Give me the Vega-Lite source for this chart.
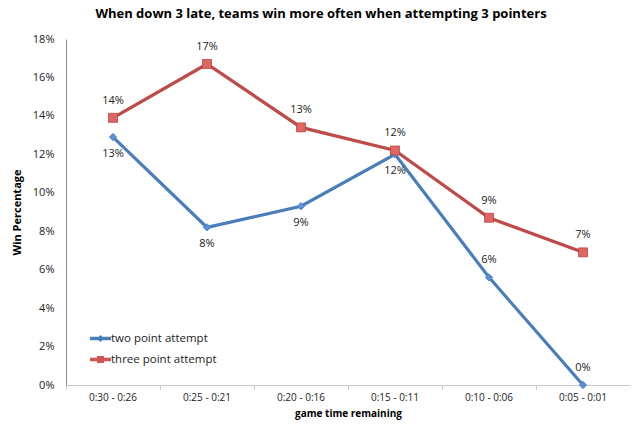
{
  "$schema": "https://vega.github.io/schema/vega-lite/v6.json",
  "width": 564,
  "height": 346,
  "autosize": {"type": "none"},
  "padding": {"left": 66, "top": 39, "right": 10, "bottom": 51},
  "background": "white",
  "config": {
    "font": "Open Sans",
    "view": {"stroke": null}
  },
  "title": {
    "text": "When down 3 late, teams win more often when attempting 3 pointers",
    "font": "Open Sans",
    "fontSize": 13,
    "fontWeight": "bold",
    "color": "#000000",
    "anchor": "middle",
    "dx": -27,
    "offset": 12
  },
  "data": {
    "values": [
      {"time": "0:30 - 0:26", "series": "two point attempt", "pct": 0.129},
      {"time": "0:25 - 0:21", "series": "two point attempt", "pct": 0.082},
      {"time": "0:20 - 0:16", "series": "two point attempt", "pct": 0.093},
      {"time": "0:15 - 0:11", "series": "two point attempt", "pct": 0.12},
      {"time": "0:10 - 0:06", "series": "two point attempt", "pct": 0.056},
      {"time": "0:05 - 0:01", "series": "two point attempt", "pct": 0.0},
      {"time": "0:30 - 0:26", "series": "three point attempt", "pct": 0.139},
      {"time": "0:25 - 0:21", "series": "three point attempt", "pct": 0.167},
      {"time": "0:20 - 0:16", "series": "three point attempt", "pct": 0.134},
      {"time": "0:15 - 0:11", "series": "three point attempt", "pct": 0.122},
      {"time": "0:10 - 0:06", "series": "three point attempt", "pct": 0.087},
      {"time": "0:05 - 0:01", "series": "three point attempt", "pct": 0.069}
    ]
  },
  "encoding": {
    "x": {
      "field": "time",
      "type": "nominal",
      "sort": null,
      "scale": {"type": "band", "paddingInner": 0, "paddingOuter": 0},
      "axis": {
        "title": "game time remaining",
        "titleFont": "Open Sans",
        "titleFontSize": 10,
        "titleFontWeight": "bold",
        "titleColor": "#000000",
        "titlePadding": 6,
        "labelAngle": 0,
        "labelFontSize": 10,
        "labelColor": "#222222",
        "labelPadding": 3,
        "bandPosition": 0,
        "ticks": true,
        "tickSize": 4,
        "tickColor": "#c8c8c8",
        "domainColor": "#c8c8c8",
        "grid": false
      }
    },
    "y": {
      "field": "pct",
      "type": "quantitative",
      "scale": {"domain": [0, 0.18], "nice": false},
      "axis": {
        "title": "Win Percentage",
        "titleFontSize": 11,
        "titleFontWeight": "bold",
        "titleColor": "#000000",
        "titlePadding": 10,
        "format": ".0%",
        "values": [0, 0.02, 0.04, 0.06, 0.08, 0.1, 0.12, 0.14, 0.16, 0.18],
        "labelFontSize": 11,
        "labelColor": "#222222",
        "labelPadding": 12,
        "ticks": false,
        "domainColor": "#8c8c8c",
        "grid": false
      }
    }
  },
  "layer": [
    {
      "mark": {"type": "line", "strokeWidth": 3.2},
      "encoding": {
        "color": {
          "field": "series",
          "type": "nominal",
          "sort": ["two point attempt", "three point attempt"],
          "scale": {"domain": ["two point attempt", "three point attempt"], "range": ["#4A7EBB", "#BE4B48"]},
          "legend": {
            "title": null,
            "orient": "none",
            "legendX": 24,
            "legendY": 289,
            "labelFont": "Open Sans",
            "labelFontSize": 11.5,
            "labelColor": "#222222",
            "labelOffset": 0,
            "rowPadding": 5,
            "symbolSize": 441,
            "symbolType": "M-1,-0.16H1V0.16H-1Z M-0.34,-0.34H0.34V0.34H-0.34Z",
            "symbolStrokeWidth": 0,
            "encode": {
              "symbols": {
                "update": {
                  "shape": {"signal": "datum.value == 'two point attempt' ? 'M-1,-0.16H1V0.16H-1Z M0,-0.34L0.34,0L0,0.34L-0.34,0Z' : 'M-1,-0.16H1V0.16H-1Z M-0.34,-0.34H0.34V0.34H-0.34Z'"},
                  "fill": {"signal": "datum.value == 'two point attempt' ? '#4A7EBB' : '#D05653'"},
                  "strokeWidth": {"value": 0}
                }
              }
            }
          }
        }
      }
    },
    {
      "transform": [{"filter": "datum.series == 'two point attempt'"}],
      "mark": {"type": "point", "shape": "diamond", "filled": true, "fill": "#5B8FD6", "stroke": "#4A7EBB", "strokeWidth": 0.8, "size": 55, "opacity": 1}
    },
    {
      "transform": [{"filter": "datum.series == 'three point attempt'"}],
      "mark": {"type": "point", "shape": "square", "filled": true, "fill": "#E06664", "stroke": "#B94441", "strokeWidth": 0.8, "size": 80, "opacity": 1}
    },
    {
      "transform": [
        {"filter": "datum.series == 'three point attempt' || datum.time == '0:10 - 0:06' || datum.time == '0:05 - 0:01'"}
      ],
      "mark": {"type": "text", "dy": -17, "fontSize": 11, "color": "#222222"},
      "encoding": {
        "text": {"field": "pct", "type": "quantitative", "format": ".0%"}
      }
    },
    {
      "transform": [
        {"filter": "!(datum.series == 'three point attempt' || datum.time == '0:10 - 0:06' || datum.time == '0:05 - 0:01')"}
      ],
      "mark": {"type": "text", "dy": 17, "fontSize": 11, "color": "#222222"},
      "encoding": {
        "text": {"field": "pct", "type": "quantitative", "format": ".0%"}
      }
    }
  ]
}
